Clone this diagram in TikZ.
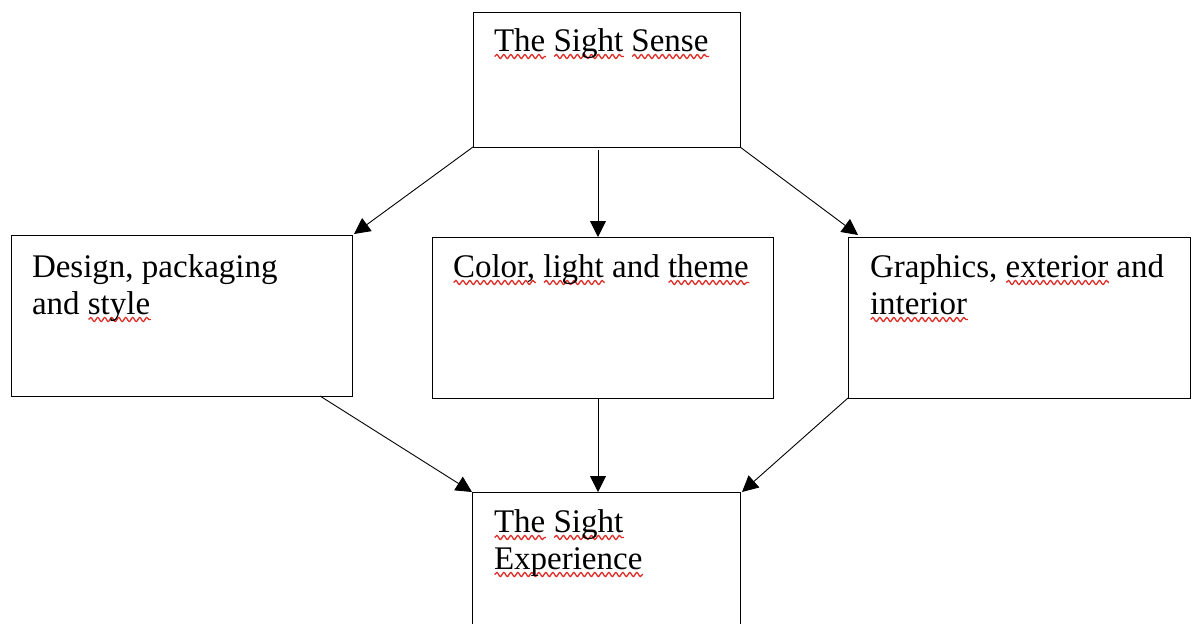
\documentclass[tikz,border=0pt]{standalone}
\usepackage{fontspec}
\setmainfont{Liberation Serif}
\usetikzlibrary{arrows.meta,decorations.pathmorphing,calc}
\definecolor{squigred}{RGB}{222,45,38}
\newsavebox\sqbox
\newlength\sqlen
\newcommand\sqw[1]{\sbox\sqbox{#1}\setlength\sqlen{\wd\sqbox}\rlap{\tikz[baseline=0pt]\draw[squigred,line width=1.3pt,decorate,decoration={snake,amplitude=2pt,segment length=7pt}](0pt,-5.5pt)--(\sqlen,-5.5pt);}\usebox\sqbox}
\tikzset{
  box/.style={draw=black,line width=0.9pt,rectangle,inner sep=0pt,outer sep=0pt},
  lbl/.style={inner sep=0pt,outer sep=0pt,align=left,font=\fontsize{33}{37}\selectfont},
  arr/.style={line width=0.9pt,-{Triangle[length=16pt,width=16pt]}}
}
\begin{document}
\begin{tikzpicture}[x=1pt,y=-1pt]
\useasboundingbox (0,0) rectangle (1195,624);
\clip (0,0) rectangle (1195,624);
\node[box,minimum width=267pt,minimum height=135pt] (top) at (606.5,79.5) {};
\node[box,minimum width=341pt,minimum height=161pt] (left) at (181.5,315.5) {};
\node[box,minimum width=341pt,minimum height=161pt] (mid) at (602.5,317.5) {};
\node[box,minimum width=342pt,minimum height=161pt] (right) at (1019,317.5) {};
\node[box,minimum width=268pt,minimum height=135pt] (bot) at (606,559.5) {};

\node[lbl,anchor=base west] (ttop) at (494,51) {\sqw{The} \sqw{Sight} \sqw{Sense}};
\node[lbl,anchor=north west] (tleft) at (32,251.1) {\strut Design, packaging\\\strut and \sqw{style}};
\node[lbl,anchor=base west] (tmid) at (453,277) {\sqw{Color,} \sqw{light} and \sqw{theme}};
\node[lbl,anchor=north west] (tright) at (870,251.1) {\strut Graphics, \sqw{exterior} and\\\strut \sqw{interior}};
\node[lbl,anchor=north west] (tbot) at (494,506.1) {\strut\sqw{The} \sqw{Sight}\\\strut\sqw{Experience}};

\draw[arr] (top.south west) -- ($(left.north east)+(2,-1)$);
\draw[arr] ($(top.south)+(-8.5,3)$) -- ($(mid.north)+(-4.5,0)$);
\draw[arr] (top.south east) -- ($(right.north west)+(10,-2)$);
\draw[arr] ($(left.south east)+(-32,0)$) -- (bot.north west);
\draw[arr] ($(mid.south)+(-4.5,0)$) -- ($(bot.north)+(-8,0)$);
\draw[arr] (right.south west) -- ($(bot.north east)+(2,0)$);
\end{tikzpicture}
\end{document}
